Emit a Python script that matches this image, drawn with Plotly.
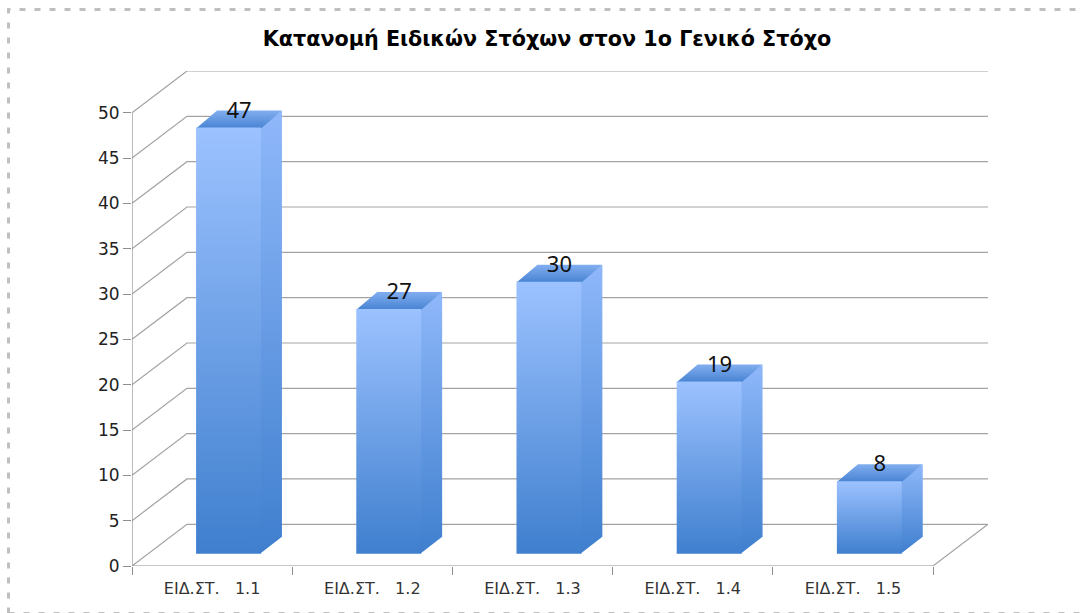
import plotly.graph_objects as go

categories = ["ΕΙΔ.ΣΤ.\u00a0\u00a0\u00a01.1", "ΕΙΔ.ΣΤ.\u00a0\u00a0\u00a01.2", "ΕΙΔ.ΣΤ.\u00a0\u00a0\u00a01.3",
              "ΕΙΔ.ΣΤ.\u00a0\u00a0\u00a01.4", "ΕΙΔ.ΣΤ.\u00a0\u00a0\u00a01.5"]
values = [47, 27, 30, 19, 8]
y_ticks = [0, 5, 10, 15, 20, 25, 30, 35, 40, 45, 50]
title_text = "Κατανομή Ειδικών Στόχων στον 1ο Γενικό Στόχο"

# faux-3D geometry in axis units
X_MAX = 856 / 160.2
Y_MAX = 495 / 9.066
WALL_DX, WALL_DY = 0.343, 4.6
BAR_GAP, BAR_W = 0.40, 0.405
BAR_DX, BAR_DY = 0.131, 1.875
BAR_BASE = 1.36
LABEL_SHIFT = 0.2
SEAM_X, SEAM_Y = 0.006, 0.1
n = len(categories)

GRID = "#a3a3a3"
AXIS = "#8f8f8f"
FRONT = [[0, "#3f7fce"], [1, "#9cc2ff"]]
SIDE = [[0, "#3f7fce"], [1, "#8fb8fa"]]
TOP = [[0, "#4783d2"], [1, "#82aef0"]]

fig = go.Figure()

# walls and floor
gx, gy = [], []
for v in y_ticks:
    gx += [0, WALL_DX, X_MAX, None]
    gy += [v, v + WALL_DY, v + WALL_DY, None]
fig.add_trace(go.Scatter(x=gx, y=gy, mode="lines", line=dict(color=GRID, width=1.2)))
fig.add_trace(go.Scatter(x=[n, X_MAX], y=[0, WALL_DY], mode="lines", line=dict(color=GRID, width=1.2)))
fig.add_trace(go.Scatter(x=[0, 0], y=[0, y_ticks[-1]], mode="lines", line=dict(color=AXIS, width=1.2)))
fig.add_trace(go.Scatter(x=[0, n], y=[0, 0], mode="lines", line=dict(color=AXIS, width=1.2)))


def face(xs, ys, scale):
    fig.add_trace(go.Scatter(
        x=xs, y=ys, mode="lines", line=dict(width=0), fill="toself",
        fillgradient=dict(type="vertical", colorscale=scale, start=min(ys), stop=max(ys)),
    ))


for i, v in enumerate(values):
    x0 = i + BAR_GAP
    x1 = x0 + BAR_W
    y0 = BAR_BASE
    y1 = BAR_BASE + v
    xs = x1 - SEAM_X
    ys = y1 - SEAM_Y
    face([xs, x1 + BAR_DX, x1 + BAR_DX, xs, xs], [y0, y0 + BAR_DY, y1 + BAR_DY, y1, y0], SIDE)
    face([x0, x1, x1 + BAR_DX, x0 + BAR_DX, x0], [ys, ys, y1 + BAR_DY, y1 + BAR_DY, ys], TOP)
    face([x0, x1, x1, x0, x0], [y0, y0, y1, y1, y0], FRONT)

fig.add_trace(go.Scatter(
    x=[i + BAR_GAP + (BAR_W + BAR_DX) / 2 for i in range(n)],
    y=[BAR_BASE + v + BAR_DY - LABEL_SHIFT for v in values],
    mode="text", text=[str(v) for v in values], textposition="middle center",
    textfont=dict(family="Noto Sans", size=22, color="#111111"),
))

fig.update_layout(
    width=1081, height=613,
    margin=dict(l=132, r=93, t=71, b=47),
    paper_bgcolor="white", plot_bgcolor="white",
    showlegend=False, hovermode=False,
    font=dict(family="DejaVu Sans", color="#222222"),
    title=dict(text="<b>" + title_text + "</b>", xref="paper", yref="container",
               x=(547 - 132) / 856, xanchor="center", y=1 - 39 / 613, yanchor="middle",
               font=dict(family="DejaVu Sans", size=20.7, color="#000000")),
    xaxis=dict(range=[0, X_MAX], showgrid=False, zeroline=False, showline=False,
               tickmode="array", tickvals=[i + 0.5 for i in range(n)], ticktext=categories,
               ticks="outside", ticklen=8, tickcolor="rgba(0,0,0,0)",
               tickfont=dict(family="DejaVu Sans", size=16, color="#333333"),
               ticklabelstandoff=0,
               minor=dict(tickmode="array", tickvals=list(range(n + 1)), ticks="outside",
                          ticklen=8, tickcolor=AXIS, tickwidth=1, showgrid=False)),
    yaxis=dict(range=[0, Y_MAX], showgrid=False, zeroline=False, showline=False,
               tickmode="array", tickvals=y_ticks,
               ticks="outside", ticklen=8, tickcolor=AXIS, tickwidth=1,
               tickfont=dict(family="DejaVu Sans", size=17, color="#222222")),
    shapes=[dict(type="rect", xref="paper", yref="paper", layer="below",
                 x0=(8.5 - 132) / 856, x1=(1095 - 132) / 856,
                 y0=(566 - 613.5) / 495, y1=(566 - 9.5) / 495,
                 line=dict(color="#bfbfbf", width=3, dash="6px,9px"))],
)

fig.write_html("out.html", config={"displayModeBar": False},
               post_script="document.body.style.margin='0';")
